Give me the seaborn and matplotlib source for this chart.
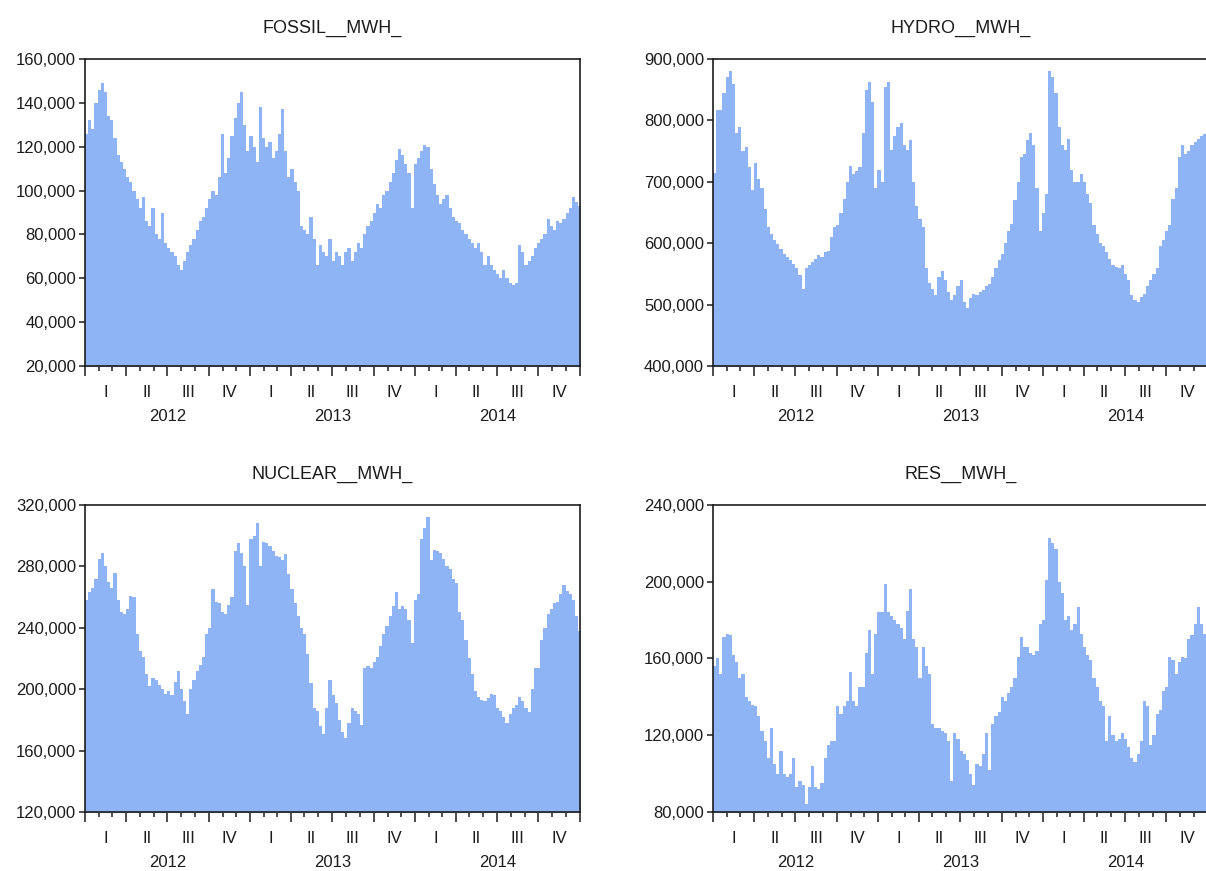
import numpy as np
import pandas as pd
import matplotlib
matplotlib.use("Agg")
import matplotlib.pyplot as plt
import seaborn as sns

# ---------------- data (weekly values, thousand MWh, starting 2012-01-01) -------------
START = "2012-01-01"
END = "2015-01-01"

titles = ["FOSSIL__MWH_", "HYDRO__MWH_", "NUCLEAR__MWH_", "RES__MWH_"]

fossil_k = [
    126, 132, 128, 140, 146, 149, 145, 134, 132, 124, 116, 113, 110,
    106, 104, 100, 96, 92, 97, 86, 84, 92, 80, 78, 90, 76,
    74, 72, 70, 66, 64, 68, 72, 75, 78, 82, 86, 88, 92,
    96, 100, 98, 106, 126, 108, 115, 125, 133, 140, 145, 130, 118,
    125, 120, 113, 138, 124, 120, 122, 115, 118, 126, 137, 118, 106,
    110, 104, 100, 84, 82, 80, 88, 78, 66, 75, 72, 70, 78,
    68, 72, 70, 66, 72, 74, 68, 72, 76, 74, 80, 84, 86,
    90, 94, 92, 98, 100, 104, 108, 114, 119, 116, 112, 108, 92,
    112, 115, 118, 121, 120, 110, 103, 98, 94, 96, 98, 92, 88,
    86, 85, 82, 80, 78, 76, 74, 76, 72, 66, 70, 66, 64,
    62, 60, 64, 60, 58, 57, 58, 75, 72, 66, 68, 70, 74,
    76, 78, 80, 87, 84, 82, 86, 85, 87, 90, 92, 97, 95, 93,
]

hydro_k = [
    714, 817, 817, 844, 870, 880, 860, 779, 790, 750, 757, 724, 686,
    730, 705, 690, 655, 626, 615, 605, 598, 590, 583, 578, 572, 566,
    560, 548, 525, 560, 565, 570, 575, 580, 578, 585, 588, 610, 626,
    630, 650, 672, 700, 725, 712, 718, 724, 780, 850, 862, 830, 690,
    720, 700, 855, 862, 752, 775, 790, 795, 760, 752, 768, 700, 660,
    640, 626, 560, 535, 525, 515, 545, 555, 540, 520, 508, 515, 530,
    540, 505, 495, 510, 517, 515, 520, 523, 530, 534, 545, 560, 572,
    583, 600, 620, 632, 670, 700, 740, 745, 768, 779, 760, 690, 620,
    650, 680, 880, 870, 845, 790, 760, 752, 770, 720, 700, 700, 712,
    700, 680, 665, 630, 615, 600, 595, 585, 575, 565, 562, 560, 565,
    550, 540, 515, 508, 505, 512, 517, 530, 540, 550, 560, 595, 605,
    620, 630, 672, 690, 740, 760, 745, 750, 760, 765, 770, 775, 778, 700,
]

nuclear_k = [
    258, 263, 266, 272, 285, 289, 280, 270, 266, 276, 258, 250, 249,
    252, 261, 260, 236, 225, 221, 210, 202, 207, 206, 203, 200, 197,
    199, 196, 205, 212, 200, 192, 184, 200, 206, 212, 216, 221, 236,
    240, 265, 257, 256, 250, 249, 255, 260, 290, 295, 289, 280, 255,
    298, 300, 308, 280, 296, 295, 293, 290, 287, 286, 284, 288, 275,
    265, 256, 248, 240, 236, 223, 204, 188, 186, 176, 171, 188, 206,
    196, 191, 180, 172, 168, 178, 188, 186, 184, 177, 214, 215, 214,
    218, 221, 228, 236, 241, 248, 254, 263, 252, 254, 252, 245, 230,
    258, 262, 298, 305, 312, 284, 291, 290, 289, 285, 280, 278, 272,
    269, 250, 245, 232, 220, 210, 199, 195, 193, 192, 194, 197, 196,
    188, 186, 182, 178, 184, 188, 190, 195, 192, 188, 185, 200, 214,
    214, 232, 240, 249, 252, 256, 257, 262, 268, 264, 262, 258, 248, 238,
]

res_k = [
    156, 160, 152, 171, 173, 172, 162, 158, 150, 152, 140, 138, 136,
    135, 130, 122, 117, 108, 124, 105, 100, 112, 100, 98, 100, 108,
    93, 96, 94, 84, 93, 104, 93, 92, 95, 108, 115, 117, 117,
    135, 131, 135, 138, 153, 138, 135, 145, 145, 163, 175, 152, 173,
    184, 184, 199, 184, 182, 180, 178, 176, 170, 185, 196, 170, 166,
    150, 166, 156, 152, 126, 124, 124, 122, 121, 117, 96, 121, 118,
    112, 110, 107, 100, 94, 105, 104, 110, 121, 102, 126, 130, 132,
    140, 138, 142, 145, 150, 161, 171, 166, 166, 163, 162, 164, 178,
    180, 201, 223, 220, 217, 200, 194, 180, 182, 175, 178, 187, 173,
    166, 162, 159, 150, 145, 138, 135, 117, 130, 120, 117, 118, 121,
    118, 114, 108, 106, 110, 117, 138, 135, 115, 120, 131, 133, 143,
    145, 161, 159, 152, 158, 161, 160, 170, 172, 178, 187, 178, 173, 172,
]

quarter_labels = ["I", "II", "III", "IV"]
year_labels = ["2012", "2013", "2014"]

fossil_yticks = [20000, 40000, 60000, 80000, 100000, 120000, 140000, 160000]
hydro_yticks = [400000, 500000, 600000, 700000, 800000, 900000]
nuclear_yticks = [120000, 160000, 200000, 240000, 280000, 320000]
res_yticks = [80000, 120000, 160000, 200000, 240000]

# ---------------- style ----------------
sns.set_style("ticks")
plt.rcParams["font.family"] = ["Liberation Sans", "DejaVu Sans"]
FILL = "#8fb4f6"
INK = "#1c1c1c"

W, H = 1206, 871
fig = plt.figure(figsize=(W / 100, H / 100), dpi=100)

ax_w = 495 / W
ax_h = 307 / H
lefts = [85 / W, 713 / W]
bottoms = [1 - 366 / H, 1 - 812 / H]
positions = [
    [lefts[0], bottoms[0], ax_w, ax_h],
    [lefts[1], bottoms[0], ax_w, ax_h],
    [lefts[0], bottoms[1], ax_w, ax_h],
    [lefts[1], bottoms[1], ax_w, ax_h],
]

series = [fossil_k, hydro_k, nuclear_k, res_k]
yticks_all = [fossil_yticks, hydro_yticks, nuclear_yticks, res_yticks]

start = pd.Timestamp(START)
days_total = (pd.Timestamp(END) - start).days
q_starts = np.asarray((pd.date_range(START, END, freq="QS") - start).days, dtype=float)
m_starts = np.asarray((pd.date_range(START, END, freq="MS") - start).days, dtype=float)
y_starts = np.asarray((pd.date_range(START, END, freq="YS") - start).days, dtype=float)
q_mid = (q_starts[:-1] + q_starts[1:]) / 2
y_mid = (y_starts[:-1] + y_starts[1:]) / 2

for title, vals_k, yt, pos in zip(titles, series, yticks_all, positions):
    ax = fig.add_axes(pos)
    vals = np.asarray(vals_k, dtype=float) * 1000
    n = len(vals)
    df = pd.DataFrame({"day": np.arange(n) * 7.0, "value": vals})
    sns.histplot(data=df, x="day", weights="value", binwidth=7, binrange=(0, n * 7),
                 element="step", fill=True, color=FILL, alpha=1, linewidth=0, ax=ax)
    ax.set_xlim(0, days_total)
    ax.set_ylim(yt[0], yt[-1])
    ax.set_xlabel("")
    ax.set_ylabel("")
    ax.set_yticks(yt)
    ax.set_yticklabels([f"{v:,.0f}" for v in yt])
    ax.set_xticks(q_starts)
    ax.set_xticks(m_starts, minor=True)
    ax.tick_params(axis="x", which="major", length=7, width=1.1, direction="out",
                   labelbottom=False, color=INK)
    ax.tick_params(axis="x", which="minor", length=3.5, width=1.1, direction="out",
                   color=INK)
    ax.tick_params(axis="y", which="major", length=4.5, width=1.1, direction="out",
                   pad=2, labelsize=12, labelcolor=INK, color=INK)
    for sp in ax.spines.values():
        sp.set_visible(True)
        sp.set_linewidth(1.2)
        sp.set_color(INK)
    ax.set_title(title, fontsize=13, pad=19, color=INK)

    sec_q = ax.secondary_xaxis("bottom")
    sec_q.set_xticks(q_mid, labels=quarter_labels * len(year_labels))
    sec_q.tick_params(length=0, pad=13.5, labelsize=12, labelcolor=INK)
    sec_q.spines["bottom"].set_visible(False)

    sec_y = ax.secondary_xaxis("bottom")
    sec_y.set_xticks(y_mid, labels=year_labels)
    sec_y.tick_params(length=0, pad=31, labelsize=12, labelcolor=INK)
    sec_y.spines["bottom"].set_visible(False)

fig.savefig("out.png", dpi=100)
